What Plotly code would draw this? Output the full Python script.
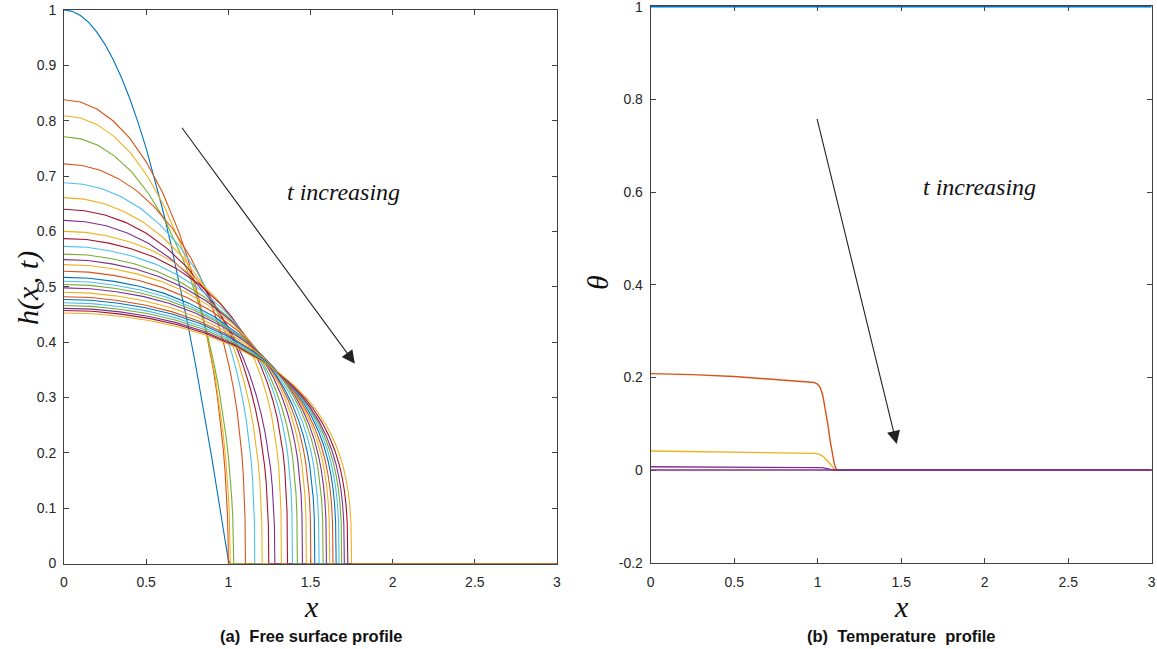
import plotly.graph_objects as go

# ---------------- data: free surface h(x,t) ----------------
# initial profile (first snapshot)
initial_x = [0.0, 0.05, 0.1, 0.15, 0.2, 0.25, 0.3, 0.35, 0.4, 0.45, 0.5, 0.55, 0.6,
             0.65, 0.7, 0.75, 0.8, 0.85, 0.9, 0.95, 0.98, 1.0, 1.015, 3.0]
initial_h = [1.0, 0.9975, 0.99, 0.9775, 0.96, 0.9375, 0.91, 0.8775, 0.84, 0.7975, 0.75,
             0.6975, 0.64, 0.5775, 0.51, 0.4375, 0.36, 0.2775, 0.19, 0.0975, 0.0396,
             0.006, 0.0, 0.0]

# later snapshots: height at x=0 and contact-line position
center_height = [0.838, 0.809, 0.771, 0.722, 0.688, 0.661, 0.640, 0.620, 0.600,
                 0.587, 0.573, 0.559, 0.549, 0.540, 0.528, 0.517, 0.510, 0.504,
                 0.498, 0.490, 0.482, 0.477, 0.471, 0.466, 0.461, 0.457, 0.4525]
front_position = [1.000, 1.012, 1.033, 1.104, 1.161, 1.206, 1.246, 1.283, 1.323,
                  1.360, 1.390, 1.420, 1.451, 1.475, 1.502, 1.526, 1.552, 1.577,
                  1.597, 1.617, 1.637, 1.656, 1.674, 1.690, 1.706, 1.727, 1.750]
profile_family = ["a", "a", "a", "b", "b", "b", "b", "b", "c",
                  "c", "c", "c", "c", "c", "c", "c", "c", "c",
                  "c", "c", "c", "c", "c", "c", "c", "c", "c"]

# normalised drop shapes h/h(0) against x/x_front
shape_s = [0.0, 0.1, 0.2, 0.3, 0.4, 0.5, 0.6, 0.7, 0.75, 0.8, 0.85, 0.88, 0.91,
           0.935, 0.955, 0.97, 0.98, 0.988, 0.994, 0.998, 1.0]
shape_table = {
    "a": [1.0, 0.995, 0.980, 0.954, 0.917, 0.866, 0.800, 0.714, 0.661, 0.600, 0.527,
          0.475, 0.415, 0.355, 0.297, 0.243, 0.199, 0.154, 0.109, 0.063, 0.0],
    "b": [1.0, 0.996, 0.984, 0.963, 0.933, 0.891, 0.837, 0.764, 0.718, 0.665, 0.599,
          0.551, 0.494, 0.436, 0.378, 0.323, 0.275, 0.224, 0.170, 0.110, 0.0],
    "c": [1.0, 0.997, 0.986, 0.969, 0.944, 0.909, 0.862, 0.799, 0.759, 0.711, 0.652,
          0.609, 0.556, 0.501, 0.445, 0.390, 0.341, 0.288, 0.229, 0.159, 0.0],
}

B, O, Y, P, G, C, R = "#0072BD", "#D95319", "#EDB120", "#7E2F8E", "#77AC30", "#4DBEEE", "#A2142F"
h_colors = [O, Y, G, O, C, Y, R, P, Y, R, C, G, P, Y, O, B, C, G, P, Y, O, B, C, G, P, R, Y]

# ---------------- data: temperature theta ----------------
theta_curves = [
    ([0.0, 3.0], [1.0, 1.0], B),
    ([0.0, 0.25, 0.5, 0.75, 0.95, 0.98, 1.0, 1.015, 1.03, 1.045, 1.06, 1.075, 1.09,
      1.10, 1.11, 1.118, 3.0],
     [0.208, 0.206, 0.202, 0.196, 0.191, 0.189, 0.185, 0.178, 0.162, 0.135, 0.100,
      0.062, 0.030, 0.013, 0.003, 0.0, 0.0], O),
    ([0.0, 0.5, 0.98, 1.0, 1.02, 1.04, 1.06, 1.08, 1.095, 1.108, 3.0],
     [0.041, 0.039, 0.036, 0.035, 0.032, 0.027, 0.020, 0.011, 0.004, 0.0, 0.0], Y),
    ([0.0, 0.5, 1.0, 1.03, 1.055, 1.075, 1.09, 3.0],
     [0.007, 0.0068, 0.0062, 0.0052, 0.003, 0.001, 0.0, 0.0], P),
    ([0.0, 3.0], [0.0, 0.0], P),
]

x_ticks = [0, 0.5, 1, 1.5, 2, 2.5, 3]
x_ticktext = ["0", "0.5", "1", "1.5", "2", "2.5", "3"]
h_ticks = [0, 0.1, 0.2, 0.3, 0.4, 0.5, 0.6, 0.7, 0.8, 0.9, 1.0]
h_ticktext = ["0", "0.1", "0.2", "0.3", "0.4", "0.5", "0.6", "0.7", "0.8", "0.9", "1"]
th_ticks = [-0.2, 0, 0.2, 0.4, 0.6, 0.8, 1.0]
th_ticktext = ["-0.2", "0", "0.2", "0.4", "0.6", "0.8", "1"]

W, H = 1157, 649
fig = go.Figure()

line_w = 1.1
fig.add_trace(go.Scatter(x=initial_x, y=initial_h, mode="lines", xaxis="x", yaxis="y",
                         line=dict(color=B, width=line_w)))
for h0, xf, fam, col in zip(center_height, front_position, profile_family, h_colors):
    xs = [s * xf for s in shape_s] + [xf + 0.005, 3.0]
    ys = [f * h0 for f in shape_table[fam]] + [0.0, 0.0]
    fig.add_trace(go.Scatter(x=xs, y=ys, mode="lines", xaxis="x", yaxis="y",
                             line=dict(color=col, width=line_w)))

for xs, ys, col in theta_curves:
    fig.add_trace(go.Scatter(x=xs, y=ys, mode="lines", xaxis="x2", yaxis="y2",
                             line=dict(color=col, width=1.4), cliponaxis=False))

axis_col = "#404040"
tick_font = dict(family="Liberation Sans, Arial, sans-serif", size=14, color="#262626")
common = dict(showline=True, linecolor=axis_col, linewidth=1, mirror="ticks",
              ticks="inside", ticklen=5, tickcolor=axis_col, tickwidth=1,
              showgrid=False, zeroline=False, tickfont=tick_font, fixedrange=True,
              automargin=False, layer="below traces", ticklabeloverflow="allow")

y_dom = [(H - 563.5) / H, (H - 10) / H]
y2_dom = [(H - 562.7) / H, (H - 6.0) / H]
fig.update_layout(
    width=W, height=H,
    margin=dict(l=0, r=0, t=0, b=0),
    paper_bgcolor="white", plot_bgcolor="white",
    showlegend=False,
    xaxis=dict(domain=[64 / W, 557 / W], range=[0, 3], anchor="y",
               tickmode="array", tickvals=x_ticks, ticktext=x_ticktext,
               ticklabelstandoff=6, **common),
    yaxis=dict(domain=y_dom, range=[0, 1], anchor="x",
               tickmode="array", tickvals=h_ticks, ticktext=h_ticktext,
               ticklabelstandoff=4, **common),
    xaxis2=dict(domain=[650.7 / W, 1151.7 / W], range=[0, 3], anchor="y2",
                tickmode="array", tickvals=x_ticks, ticktext=x_ticktext,
                ticklabelstandoff=6, **common),
    yaxis2=dict(domain=y2_dom, range=[-0.2, 1.0015], anchor="x2",
                tickmode="array", tickvals=th_ticks, ticktext=th_ticktext,
                ticklabelstandoff=4, **common),
)

serif = "Liberation Serif, Times New Roman, serif"
label_font = dict(family=serif, size=30, color="#111111")


def px_ann(text, px, py, font, angle=0):
    fig.add_annotation(text=text, x=px / W, y=1 - py / H, xref="paper", yref="paper",
                       showarrow=False, font=font, textangle=angle,
                       xanchor="center", yanchor="middle")


# axis labels
px_ann("<i>h(x\u200a, t)</i>", 28, 288, label_font, -90)
px_ann("<i>θ</i>", 597, 283, label_font, -90)
px_ann("<i>x</i>", 311, 606, label_font)
px_ann("<i>x</i>", 901, 606, label_font)

# panel captions
cap_font = dict(family="Liberation Sans, Arial, sans-serif", size=16.5, color="#111111")
px_ann("<b>(a)  Free surface profile</b>", 311, 636, cap_font)
px_ann("<b>(b)  Temperature  profile</b>", 901, 636, cap_font)

# time direction arrows and labels
note_font = dict(family=serif, size=24, color="#111111")
fig.add_annotation(x=1.77, y=0.361, ax=0.711, ay=0.79, xref="x", yref="y",
                   axref="x", ayref="y", showarrow=True, arrowhead=2, arrowsize=2.4,
                   arrowwidth=1.1, arrowcolor="#222222", text="")
fig.add_annotation(x=1.70, y=0.671, xref="x", yref="y", text="<i>t increasing</i>",
                   showarrow=False, font=note_font)
fig.add_annotation(x=1.473, y=0.056, ax=0.994, ay=0.761, xref="x2", yref="y2",
                   axref="x2", ayref="y2", showarrow=True, arrowhead=2, arrowsize=2.4,
                   arrowwidth=1.1, arrowcolor="#222222", text="")
fig.add_annotation(x=1.97, y=0.611, xref="x2", yref="y2", text="<i>t increasing</i>",
                   showarrow=False, font=note_font)

fig.write_html("out.html")
